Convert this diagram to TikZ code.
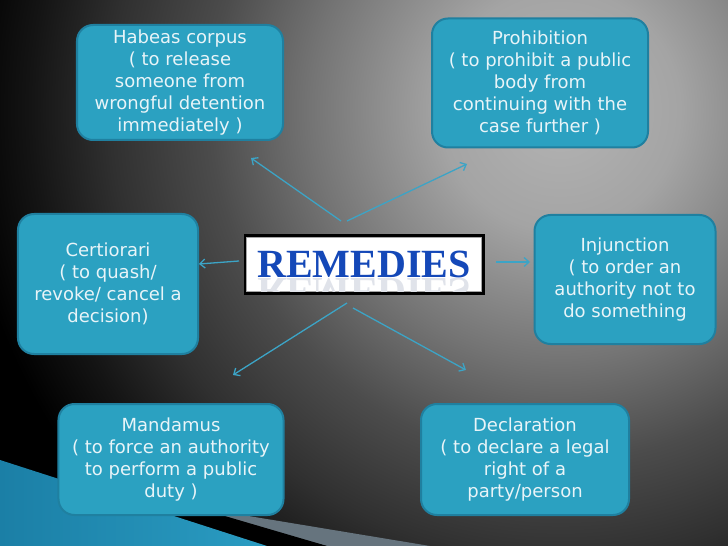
\documentclass[tikz,border=0pt]{standalone}
\usepackage{fontspec}
\setmainfont{DejaVu Sans}
\newfontfamily\remfont{Liberation Serif}
\usetikzlibrary{arrows.meta}
\definecolor{bgA}{HTML}{B4B4B4}
\definecolor{bgB}{HTML}{A4A4A4}
\definecolor{bgC}{HTML}{747474}
\definecolor{bgD}{HTML}{4C4C4C}
\definecolor{bgE}{HTML}{303030}
\definecolor{bgF}{HTML}{141414}
\definecolor{boxfill}{HTML}{2BA1C1}
\definecolor{boxline}{HTML}{1F80A0}
\definecolor{boxtext}{HTML}{E8F4F8}
\definecolor{arrcol}{HTML}{3CA4C6}
\definecolor{remblue}{HTML}{1448B8}
\definecolor{reflcol}{HTML}{E0E3EA}
\definecolor{decblue}{HTML}{2A9CC2}
\definecolor{decblueB}{HTML}{1B7FA6}
\definecolor{decsteel}{HTML}{66747E}
\pgfdeclareradialshading{bgshade}{\pgfpoint{0bp}{0bp}}{color(0bp)=(bgA); color(120bp)=(bgB); color(250bp)=(bgC); color(350bp)=(bgD); color(450bp)=(bgE); color(530bp)=(bgF); color(600bp)=(black); color(700bp)=(black)}
\tikzset{
  box/.style={draw=boxline, line width=2bp, fill=boxfill, rounded corners=16bp,
    inner sep=0pt, align=center, text=boxtext,
    font=\fontsize{18bp}{22bp}\selectfont},
  arr/.style={draw=arrcol, line width=1.3bp, -{Straight Barb[length=5bp,width=9bp]}},
  remfontstyle/.style={font=\remfont\bfseries\fontsize{40bp}{40bp}\selectfont},
}
\begin{document}
\begin{tikzpicture}[x=1bp,y=-1bp]
\useasboundingbox (0,0) rectangle (728,546);
\clip (0,0) rectangle (728,546);
\fill[black] (0,0) rectangle (728,546);
\node[inner sep=0pt] (bg) at (560,110) {\pgfuseshading{bgshade}};
% bottom-left decoration
\fill[decsteel] (170,503) -- (430,546) -- (327,546) -- cycle;
\fill[black] (0,450) -- (327,546) -- (267,546) -- (0,460) -- cycle;
\shade[left color=decblueB, right color=decblue] (0,460) -- (267,546) -- (0,546) -- cycle;
% boxes
\node[box, minimum width=206bp, minimum height=115bp] (habeas) at (180,82.5)
  {Habeas corpus\\( to release\\someone from\\wrongful detention\\immediately )};
\node[box, minimum width=216bp, minimum height=129bp] (prohib) at (540,83)
  {Prohibition\\( to prohibit a public\\body from\\continuing with the\\case further )};
\node[box, minimum width=180bp, minimum height=140bp] (cert) at (108,284)
  {Certiorari\\( to quash/\\revoke/ cancel a\\decision)};
\node[box, minimum width=181bp, minimum height=129bp] (inj) at (625,279.5)
  {Injunction\\( to order an\\authority not to\\do something};
\node[box, minimum width=225bp, minimum height=111bp] (mand) at (171,459.5)
  {Mandamus\\( to force an authority\\to perform a public\\duty )};
\node[box, minimum width=208bp, minimum height=111bp] (decl) at (525,459.5)
  {Declaration\\( to declare a legal\\right of a\\party/person};
% central box
\node[draw=black, line width=3bp, fill=white, minimum width=238bp, minimum height=57bp, inner sep=0pt] (rem) at (364,264.5) {};
\draw[gray!70, line width=0.8bp] ([shift={(3bp,3bp)}]rem.south west) rectangle ([shift={(-3bp,-3bp)}]rem.north east);
\begin{scope}
\clip ([shift={(3.5bp,3.5bp)}]rem.south west) rectangle ([shift={(-3.5bp,-3.5bp)}]rem.north east);
\node[anchor=base, yscale=-1, transform shape, inner sep=0pt, text=reflcol, remfontstyle] (remrefl) at (364,279) {REMEDIES};
\end{scope}
\node[anchor=base, inner sep=0pt, text=remblue, remfontstyle] (remtext) at (364,278) {REMEDIES};
% arrows
\coordinate (s1) at (341,221); \coordinate (e1) at (251,158);
\coordinate (s2) at (347,221); \coordinate (e2) at (467,164);
\coordinate (s3) at (239,261); \coordinate (e3) at (199,264);
\coordinate (s4) at (496,262); \coordinate (e4) at (530,262);
\coordinate (s5) at (347,303); \coordinate (e5) at (233,375);
\coordinate (s6) at (353,308); \coordinate (e6) at (466,370);
\draw[arr] (s1) -- (e1);
\draw[arr] (s2) -- (e2);
\draw[arr] (s3) -- (e3);
\draw[arr] (s4) -- (e4);
\draw[arr] (s5) -- (e5);
\draw[arr] (s6) -- (e6);
\end{tikzpicture}
\end{document}
